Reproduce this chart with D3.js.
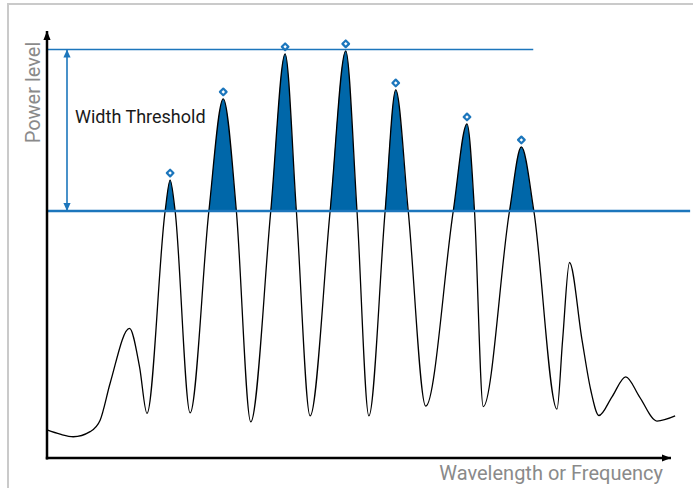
<!DOCTYPE html>
<html>
<head>
<meta charset="utf-8">
<script src="https://cdn.jsdelivr.net/npm/d3@7"></script>
<style>
  html, body { margin: 0; padding: 0; background: #fff; }
  svg { display: block; font-family: Roboto, "Noto Sans", sans-serif; }
</style>
</head>
<body>
<svg id="chart" width="693" height="488"></svg>
<script>
// Spectrum samples (x: 0..100 along the axis, y: 0..100 power)
const wavelength = [
  0, 2.1, 4.2, 6.9, 8.5, 10.1, 13.2, 14.8, 16.0,
  18.9, 19.7, 20.5, 22.9,
  25.9, 28.2, 30.3, 32.6,
  35.8, 38.1, 39.9, 42.1,
  45.3, 47.8, 49.6, 51.5,
  54.1, 55.8, 57.8, 60.6,
  65.0, 67.2, 68.4, 69.8,
  74.0, 75.9, 77.9, 81.6,
  82.5, 83.6, 85.6, 87.0, 88.3,
  90.4, 92.6, 94.8, 97.6, 100.5
];
const power = [
  6.6, 5.6, 5.0, 6.2, 8.9, 17.6, 30.5, 21.5, 10.5,
  58.1, 65.4, 58.1, 10.6,
  58.1, 84.5, 58.1, 8.5,
  58.1, 95.1, 58.1, 9.9,
  58.1, 95.8, 58.1, 9.9,
  58.1, 86.6, 58.1, 12.2,
  58.1, 78.6, 58.1, 12.1,
  58.1, 73.2, 58.1, 11.5,
  27.8, 46.0, 27.8, 16.0, 10.0,
  14.4, 19.1, 14.4, 8.7, 9.9
];

const thresholdLevel = 58.1;
const referenceLevel = 96.1;
const referenceEnd = 77.8;
const thresholdEnd = 102.9;

const xTitle = 'Wavelength or Frequency';
const yTitle = 'Power level';
const bandLabel = 'Width Threshold';

const COLORS = {
  fill: '#0067a9',
  line: '#1c76bc',
  axis: '#000',
  title: '#8a8a8a',
  frame: '#cacaca'
};

class SpectrumChart {
  constructor(svg) {
    this.svg = svg;
    this.x = d3.scaleLinear().domain([0, 100]).range([47, 672]);
    this.y = d3.scaleLinear().domain([0, 100]).range([458, 33]);
    this.points = wavelength.map((w, i) => ({ x: w, y: power[i] }));
  }

  /**
   * Arrow heads for axes and the threshold span
   */
  renderDefs() {
    const defs = this.svg.append('defs');

    defs.append('marker')
      .attr('id', 'axis-head')
      .attr('viewBox', '0 -5 10 10')
      .attr('refX', 10)
      .attr('refY', 0)
      .attr('markerUnits', 'userSpaceOnUse')
      .attr('markerWidth', 9)
      .attr('markerHeight', 9)
      .attr('orient', 'auto')
      .append('path')
      .attr('d', 'M0,-4L10,0L0,4Z')
      .attr('fill', COLORS.axis);

    defs.append('marker')
      .attr('id', 'span-head')
      .attr('viewBox', '0 -5 10 10')
      .attr('refX', 10)
      .attr('refY', 0)
      .attr('markerUnits', 'userSpaceOnUse')
      .attr('markerWidth', 8)
      .attr('markerHeight', 8)
      .attr('orient', 'auto-start-reverse')
      .append('path')
      .attr('d', 'M0,-4.5L10,0L0,4.5Z')
      .attr('fill', COLORS.line);

    defs.append('clipPath')
      .attr('id', 'above-threshold')
      .append('rect')
      .attr('x', 0)
      .attr('y', 0)
      .attr('width', 693)
      .attr('height', this.y(thresholdLevel));
  }

  renderFrame() {
    this.svg.append('rect')
      .attr('x', 8)
      .attr('y', 4)
      .attr('width', 720)
      .attr('height', 520)
      .attr('fill', 'none')
      .attr('stroke', COLORS.frame)
      .attr('stroke-width', 2);
  }

  /**
   * Filled lobes above the threshold, then the spectrum line
   */
  renderSpectrum() {
    const { x, y } = this;
    const curve = d3.curveMonotoneX;

    const area = d3.area()
      .x(d => x(d.x))
      .y0(y(thresholdLevel))
      .y1(d => y(d.y))
      .curve(curve);

    this.svg.append('path')
      .datum(this.points)
      .attr('clip-path', 'url(#above-threshold)')
      .attr('fill', COLORS.fill)
      .attr('d', area);

    const line = d3.line()
      .x(d => x(d.x))
      .y(d => y(d.y))
      .curve(curve);

    this.svg.append('path')
      .datum(this.points)
      .attr('fill', 'none')
      .attr('stroke', '#000')
      .attr('stroke-width', 1.3)
      .attr('d', line);
  }

  renderThresholds() {
    const { x, y } = this;

    this.svg.append('line')
      .attr('x1', x(0)).attr('x2', x(referenceEnd))
      .attr('y1', y(referenceLevel)).attr('y2', y(referenceLevel))
      .attr('stroke', COLORS.line)
      .attr('stroke-width', 1.5);

    this.svg.append('line')
      .attr('x1', x(0)).attr('x2', x(thresholdEnd))
      .attr('y1', y(thresholdLevel)).attr('y2', y(thresholdLevel))
      .attr('stroke', COLORS.line)
      .attr('stroke-width', 2.5);

    // span arrow between the two levels
    const spanX = x(3.2);
    this.svg.append('line')
      .attr('x1', spanX).attr('x2', spanX)
      .attr('y1', y(referenceLevel)).attr('y2', y(thresholdLevel))
      .attr('stroke', COLORS.line)
      .attr('stroke-width', 1.6)
      .attr('marker-start', 'url(#span-head)')
      .attr('marker-end', 'url(#span-head)');

    this.svg.append('text')
      .attr('x', 75)
      .attr('y', 123)
      .attr('font-size', 18)
      .attr('fill', '#1a1a1a')
      .text(bandLabel);
  }

  /**
   * Diamond markers over every peak that clears the threshold
   */
  renderPeakMarkers() {
    const { x, y } = this;
    const peaks = this.points.filter((d, i, arr) =>
      i > 0 && i < arr.length - 1 &&
      d.y > thresholdLevel && d.y > arr[i - 1].y && d.y > arr[i + 1].y);

    this.svg.append('g')
      .attr('class', 'peaks')
      .selectAll('path')
      .data(peaks)
      .join('path')
      .attr('transform', d => `translate(${x(d.x)},${y(d.y) - 7}) rotate(45)`)
      .attr('d', d3.symbol(d3.symbolSquare, 22))
      .attr('fill', '#fff')
      .attr('stroke', COLORS.line)
      .attr('stroke-width', 2.2)
      .attr('stroke-linejoin', 'round');
  }

  renderAxes() {
    const { x, y } = this;

    this.svg.append('line')
      .attr('x1', x(0)).attr('x2', x(0))
      .attr('y1', y(0) + 1.5).attr('y2', 31)
      .attr('stroke', COLORS.axis)
      .attr('stroke-width', 2.5)
      .attr('marker-end', 'url(#axis-head)');

    this.svg.append('line')
      .attr('x1', x(0) - 1.2).attr('x2', 671)
      .attr('y1', y(0)).attr('y2', y(0))
      .attr('stroke', COLORS.axis)
      .attr('stroke-width', 2.5)
      .attr('marker-end', 'url(#axis-head)');

    this.svg.append('text')
      .attr('x', 663)
      .attr('y', 480)
      .attr('text-anchor', 'end')
      .attr('font-size', 20)
      .attr('fill', COLORS.title)
      .text(xTitle);

    this.svg.append('text')
      .attr('transform', 'translate(40,92.5) rotate(-90)')
      .attr('text-anchor', 'middle')
      .attr('font-size', 20)
      .attr('fill', COLORS.title)
      .text(yTitle);
  }

  render() {
    this.renderDefs();
    this.renderFrame();
    this.renderSpectrum();
    this.renderThresholds();
    this.renderPeakMarkers();
    this.renderAxes();
  }
}

new SpectrumChart(d3.select('#chart')).render();
</script>
</body>
</html>
